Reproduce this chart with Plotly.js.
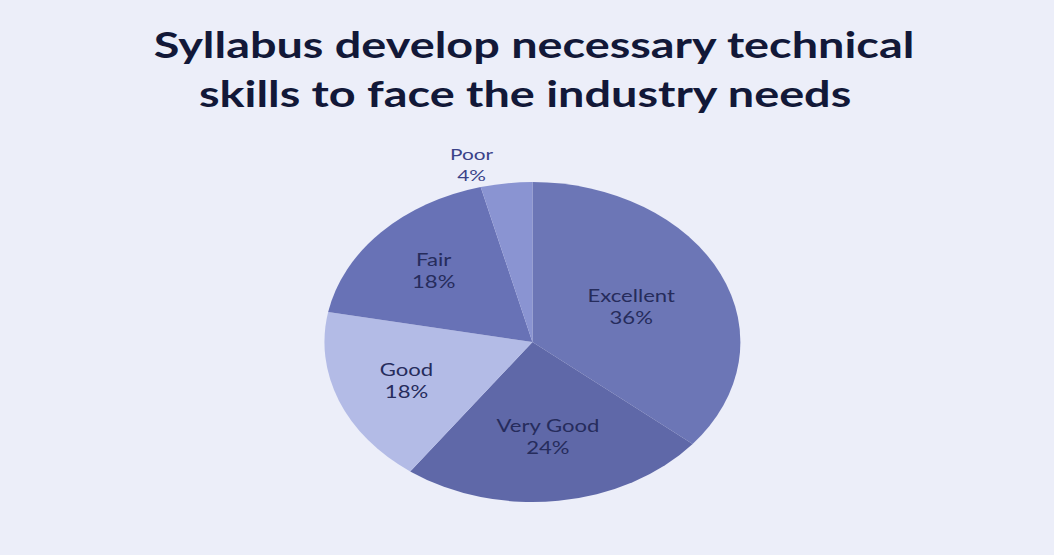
<!DOCTYPE html>
<html>
<head>
<meta charset="utf-8">
<script src="https://cdn.plot.ly/plotly-3.0.1.min.js"></script>
<style>
  html, body { margin: 0; padding: 0; background: #eceef9; overflow: hidden; }
  #chart { width: 811px; height: 555px; transform: scaleX(1.3); transform-origin: 0 0; }
</style>
</head>
<body>
<div id="chart"></div>
<script>
// Data
var categories = ["Excellent", "Very Good", "Good", "Fair", "Poor"];
var values = [36, 24, 18, 18, 4];
var sliceColors = ["#6c76b6", "#5f68a8", "#b3bbe6", "#6872b6", "#8a94d2"];
var titleLine1 = "Syllabus develop necessary technical";
var titleLine2 = "skills to face the industry needs";

var fontFamily = "Lato, 'Open Sans', 'DejaVu Sans', sans-serif";

var data = [{
  type: "pie",
  labels: categories,
  values: values,
  sort: false,
  direction: "clockwise",
  rotation: 0,
  marker: { colors: sliceColors, line: { width: 0 } },
  texttemplate: "%{label}<br>%{percent:.0%}",
  textposition: ["inside", "inside", "inside", "inside", "outside"],
  insidetextorientation: "horizontal",
  textfont: { family: fontFamily, size: 17, color: "#262c5c" },
  outsidetextfont: { family: fontFamily, size: 16, color: "#3a4288" },
  domain: { x: [0.3, 0.71], y: [0.0955, 0.672] },
  showlegend: false,
  hoverinfo: "none"
}];

var layout = {
  width: 811,
  height: 555,
  margin: { l: 0, r: 0, t: 0, b: 0 },
  paper_bgcolor: "#eceef9",
  plot_bgcolor: "#eceef9",
  showlegend: false,
  title: {
    text: titleLine1,
    font: { family: fontFamily, size: 36, color: "#121838", weight: "bold" },
    x: 0.5065, xanchor: "center",
    y: 0.941, yanchor: "top"
  },
  annotations: [{
    text: titleLine2,
    xref: "paper", yref: "paper",
    x: 0.498, xanchor: "center",
    y: 0.876, yanchor: "top",
    showarrow: false,
    font: { family: fontFamily, size: 36, color: "#121838", weight: "bold" }
  }]
};

Plotly.newPlot("chart", data, layout, { staticPlot: true, displayModeBar: false });
</script>
</body>
</html>
